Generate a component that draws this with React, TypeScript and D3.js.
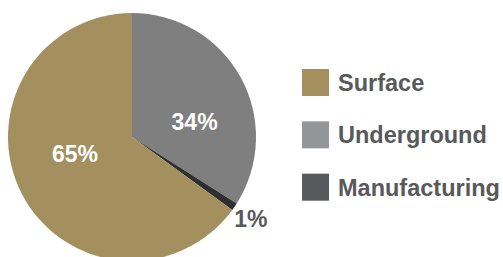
import React, { useEffect, useRef } from 'react';
import * as d3 from 'd3';

// slices, clockwise from 12 o'clock
const categories = ['Underground', 'Manufacturing', 'Surface'];
const shares = [34, 1, 65];
const sliceColors = ['#7f7f7f', '#2f2f2f', '#a48f5f'];

// legend order differs from slice order
const legendLabels = ['Surface', 'Underground', 'Manufacturing'];
const legendColors = ['#a48f5f', '#939598', '#58595b'];

const width = 503;
const height = 257;

function App() {
  const ref = useRef<SVGSVGElement>(null);

  useEffect(() => {
    const svg = d3.select(ref.current);
    svg.selectAll('*').remove();

    const cx = 132;
    const cy = 137;
    const radius = 124;

    const data = categories.map((c, i) => ({ name: c, value: shares[i], color: sliceColors[i] }));
    const pie = d3.pie<any>().value(d => d.value).sort(null);
    const arcs = pie(data);
    const arc = d3.arc<any>().innerRadius(0).outerRadius(radius);
    const innerLabelArc = d3.arc<any>().innerRadius(60).outerRadius(60);
    const outerLabelArc = d3.arc<any>().innerRadius(142).outerRadius(142);

    const g = svg.append('g').attr('transform', `translate(${cx},${cy})`);

    g.selectAll('path')
      .data(arcs)
      .join('path')
      .attr('d', arc)
      .attr('fill', d => d.data.color);

    // small nudges so the labels sit where the original puts them
    const nudge: Record<string, [number, number]> = {
      Underground: [10, 14],
      Manufacturing: [1.5, 1.5],
      Surface: [-3.5, -11],
    };

    g.selectAll('text.pct')
      .data(arcs)
      .join('text')
      .attr('class', 'pct')
      .attr('transform', d => {
        const small = d.data.value < 5;
        const [x, y] = (small ? outerLabelArc : innerLabelArc).centroid(d);
        const [nx, ny] = nudge[d.data.name];
        return `translate(${x + nx},${y + ny})`;
      })
      .attr('text-anchor', 'middle')
      .attr('dy', '0.36em')
      .attr('font-family', 'Liberation Sans, Arial, sans-serif')
      .attr('font-weight', 'bold')
      .attr('font-size', 23)
      .attr('fill', d => (d.data.value < 5 ? '#58595b' : '#ffffff'))
      .text(d => d.data.value + '%');

    const legendY = d3.scaleBand().domain(legendLabels).range([69, 226]).paddingInner(0);

    const legend = svg
      .append('g')
      .selectAll('g')
      .data(legendLabels)
      .join('g')
      .attr('transform', d => `translate(302,${legendY(d)})`);

    legend
      .append('rect')
      .attr('width', 27)
      .attr('height', 27)
      .attr('fill', (d, i) => legendColors[i]);

    legend
      .append('text')
      .attr('x', 36)
      .attr('y', 22)
      .attr('font-family', 'Liberation Sans, Arial, sans-serif')
      .attr('font-weight', 'bold')
      .attr('font-size', 23.5)
      .attr('fill', '#58595b')
      .text(d => d);
  }, []);

  return (
    <div style={{ position: 'absolute', left: 0, top: 0 }}>
      <svg ref={ref} width={width} height={height} style={{ display: 'block', background: '#fff' }} />
    </div>
  );
}

export default App;
